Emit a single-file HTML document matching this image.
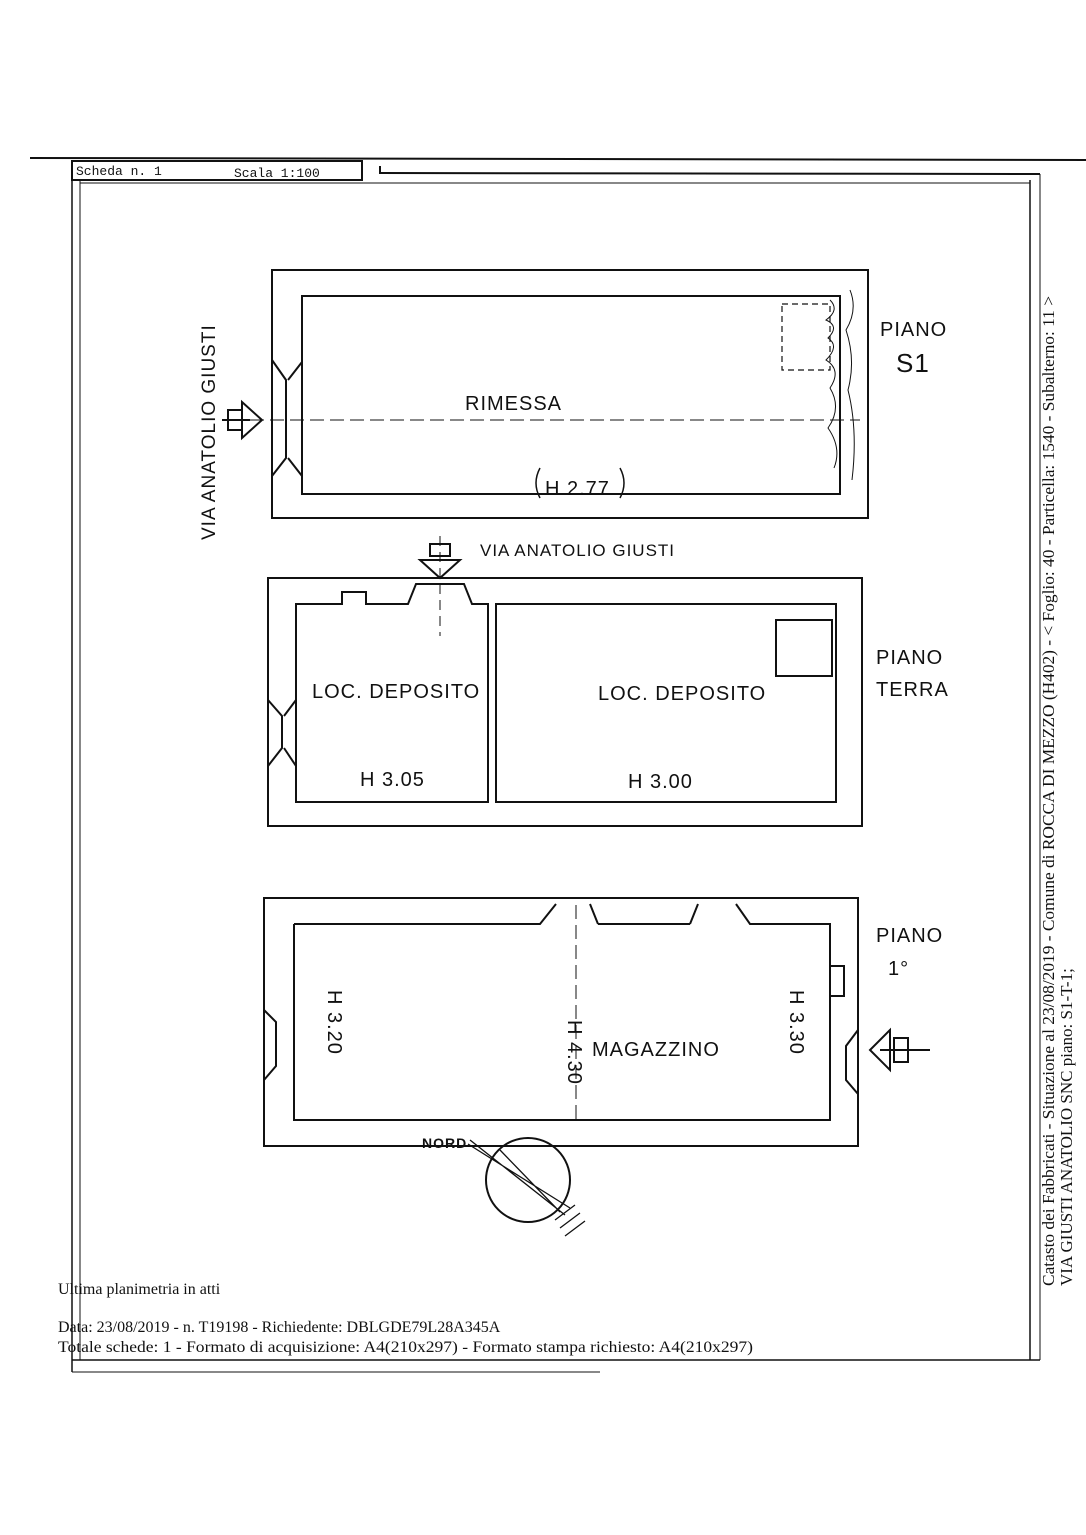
<!DOCTYPE html>
<html><head><meta charset="utf-8"><style>
html,body{margin:0;padding:0;background:#fff;}
svg{display:block}
text{font-family:"Liberation Sans",sans-serif;fill:#111}
.h{font-family:"Liberation Sans",sans-serif;font-size:20px;letter-spacing:1px}
.s{font-family:"Liberation Serif",serif;font-size:15px}
</style></head><body>
<svg width="1086" height="1535" viewBox="0 0 1086 1535" xmlns="http://www.w3.org/2000/svg" fill="none" stroke="#111" stroke-width="2">
<line x1="30" y1="158" x2="1086" y2="160"/>
<rect x="72" y="161" width="290" height="19"/>
<line x1="380" y1="173" x2="1040" y2="174"/>
<line x1="380" y1="166" x2="380" y2="174"/>
<text x="76" y="175" style="font-family:'Liberation Mono',monospace;font-size:13px" stroke="none">Scheda n. 1</text>
<text x="234" y="177" style="font-family:'Liberation Mono',monospace;font-size:13px" stroke="none">Scala 1:100</text>
<line x1="72" y1="180" x2="72" y2="1372" stroke-width="1.5"/>
<line x1="80" y1="180" x2="80" y2="1360" stroke-width="1"/>
<line x1="1030" y1="180" x2="1030" y2="1360" stroke-width="1.5"/>
<line x1="1040" y1="174" x2="1040" y2="1360" stroke-width="1"/>
<line x1="72" y1="1360" x2="1040" y2="1360" stroke-width="1.5"/>
<line x1="80" y1="183" x2="1030" y2="183" stroke-width="1"/>
<line x1="72" y1="1372" x2="600" y2="1372" stroke-width="1"/>
<rect x="272" y="270" width="596" height="248"/>
<rect x="302" y="296" width="538" height="198"/>
<path d="M272 360 L286 380 L286 458 L272 476 M302 362 L288 380 M302 476 L288 458"/>
<line x1="230" y1="420" x2="860" y2="420" stroke-width="1" stroke-dasharray="14 6"/>
<path d="M242 402 L262 420 L242 438 Z"/>
<rect x="228" y="410" width="14" height="20"/><line x1="222" y1="420" x2="250" y2="420"/>
<rect x="782" y="304" width="48" height="66" stroke-dasharray="6 4" stroke-width="1.2"/>
<path d="M830 300 q10 10 -4 20 q14 6 2 18 q12 8 -2 22 q16 10 4 28 q12 20 -2 40 q14 20 6 40 M850 290 q8 20 -4 40 q10 30 2 60 q10 40 4 90" stroke-width="1"/>
<text class="h" x="465" y="410" stroke="none">RIMESSA</text>
<text class="h" x="545" y="495" stroke="none">H 2.77</text>
<path d="M540 468 q-8 15 0 30 M620 468 q8 15 0 30" stroke-width="1.5"/>
<text class="h" x="880" y="336" stroke="none">PIANO</text>
<text class="h" x="896" y="372" stroke="none" style="font-size:26px">S1</text>
<text class="h" transform="translate(215,540) rotate(-90)" stroke="none" style="font-size:19px">VIA ANATOLIO GIUSTI</text>
<rect x="268" y="578" width="594" height="248"/>
<path d="M296 604 L342 604 L342 592 L366 592 L366 604 L408 604 L416 584 L464 584 L472 604 L488 604 L488 802 L296 802 Z"/>
<rect x="496" y="604" width="340" height="198"/>
<rect x="776" y="620" width="56" height="56"/>
<path d="M268 700 L282 716 L282 748 L268 766 M296 700 L284 716 M296 766 L284 748"/>
<path d="M420 560 L440 578 L460 560 Z"/>
<rect x="430" y="544" width="20" height="12"/><line x1="440" y1="536" x2="440" y2="636" stroke-dasharray="10 6" stroke-width="1"/>
<text class="h" x="480" y="556" stroke="none" style="font-size:17px">VIA ANATOLIO GIUSTI</text>
<text class="h" x="312" y="698" stroke="none">LOC. DEPOSITO</text>
<text class="h" x="598" y="700" stroke="none">LOC. DEPOSITO</text>
<text class="h" x="360" y="786" stroke="none">H 3.05</text>
<text class="h" x="628" y="788" stroke="none">H 3.00</text>
<text class="h" x="876" y="664" stroke="none">PIANO</text>
<text class="h" x="876" y="696" stroke="none">TERRA</text>
<rect x="264" y="898" width="594" height="248"/>
<path d="M294 924 L540 924 L556 904 M294 924 L294 1120 L830 1120 L830 924 L750 924 L736 904 M598 924 L690 924 M590 904 L598 924 M698 904 L690 924"/>
<path d="M264 1010 L276 1022 L276 1066 L264 1080 M830 966 L844 966 L844 996 L830 996 M858 1030 L846 1046 L846 1080 L858 1094"/>
<line x1="576" y1="905" x2="576" y2="1120" stroke-dasharray="14 6" stroke-width="1"/>
<path d="M890 1030 L870 1050 L890 1070 Z"/>
<rect x="894" y="1038" width="14" height="24"/><line x1="880" y1="1050" x2="930" y2="1050"/>
<text class="h" x="592" y="1056" stroke="none">MAGAZZINO</text>
<text class="h" transform="translate(328,990) rotate(90)" stroke="none">H 3.20</text>
<text class="h" transform="translate(568,1020) rotate(90)" stroke="none">H 4.30</text>
<text class="h" transform="translate(790,990) rotate(90)" stroke="none">H 3.30</text>
<text class="h" x="876" y="942" stroke="none">PIANO</text>
<text class="h" x="888" y="975" stroke="none">1°</text>
<circle cx="528" cy="1180" r="42"/>
<path d="M468 1144 L570 1208 M470 1140 L565 1215 M500 1150 L560 1212" stroke-width="1.3"/>
<path d="M555 1220 L575 1205 M560 1228 L580 1213 M565 1236 L585 1221" stroke-width="1.3"/>
<text class="h" x="422" y="1148" stroke="none" style="font-size:14px;font-weight:bold">NORD</text>
<g stroke="none">
<text class="s" x="58" y="1294" style="font-size:16px">Ultima planimetria in atti</text>
<text class="s" x="58" y="1332" style="font-size:16px">Data: 23/08/2019 - n. T19198 - Richiedente: DBLGDE79L28A345A</text>
<text class="s" x="58" y="1352" style="font-size:16px" textLength="695" lengthAdjust="spacingAndGlyphs">Totale schede: 1 - Formato di acquisizione: A4(210x297)  - Formato stampa richiesto: A4(210x297)</text>
<text class="s" transform="translate(1054,1286) rotate(-90)" style="font-size:17px" textLength="990" lengthAdjust="spacingAndGlyphs">Catasto dei Fabbricati - Situazione al 23/08/2019 - Comune di ROCCA DI MEZZO (H402) - &lt; Foglio: 40 - Particella: 1540 - Subalterno: 11 &gt;</text>
<text class="s" transform="translate(1072,1286) rotate(-90)" style="font-size:17px">VIA GIUSTI ANATOLIO SNC piano: S1-T-1;</text>
</g>
</svg>
</body></html>
